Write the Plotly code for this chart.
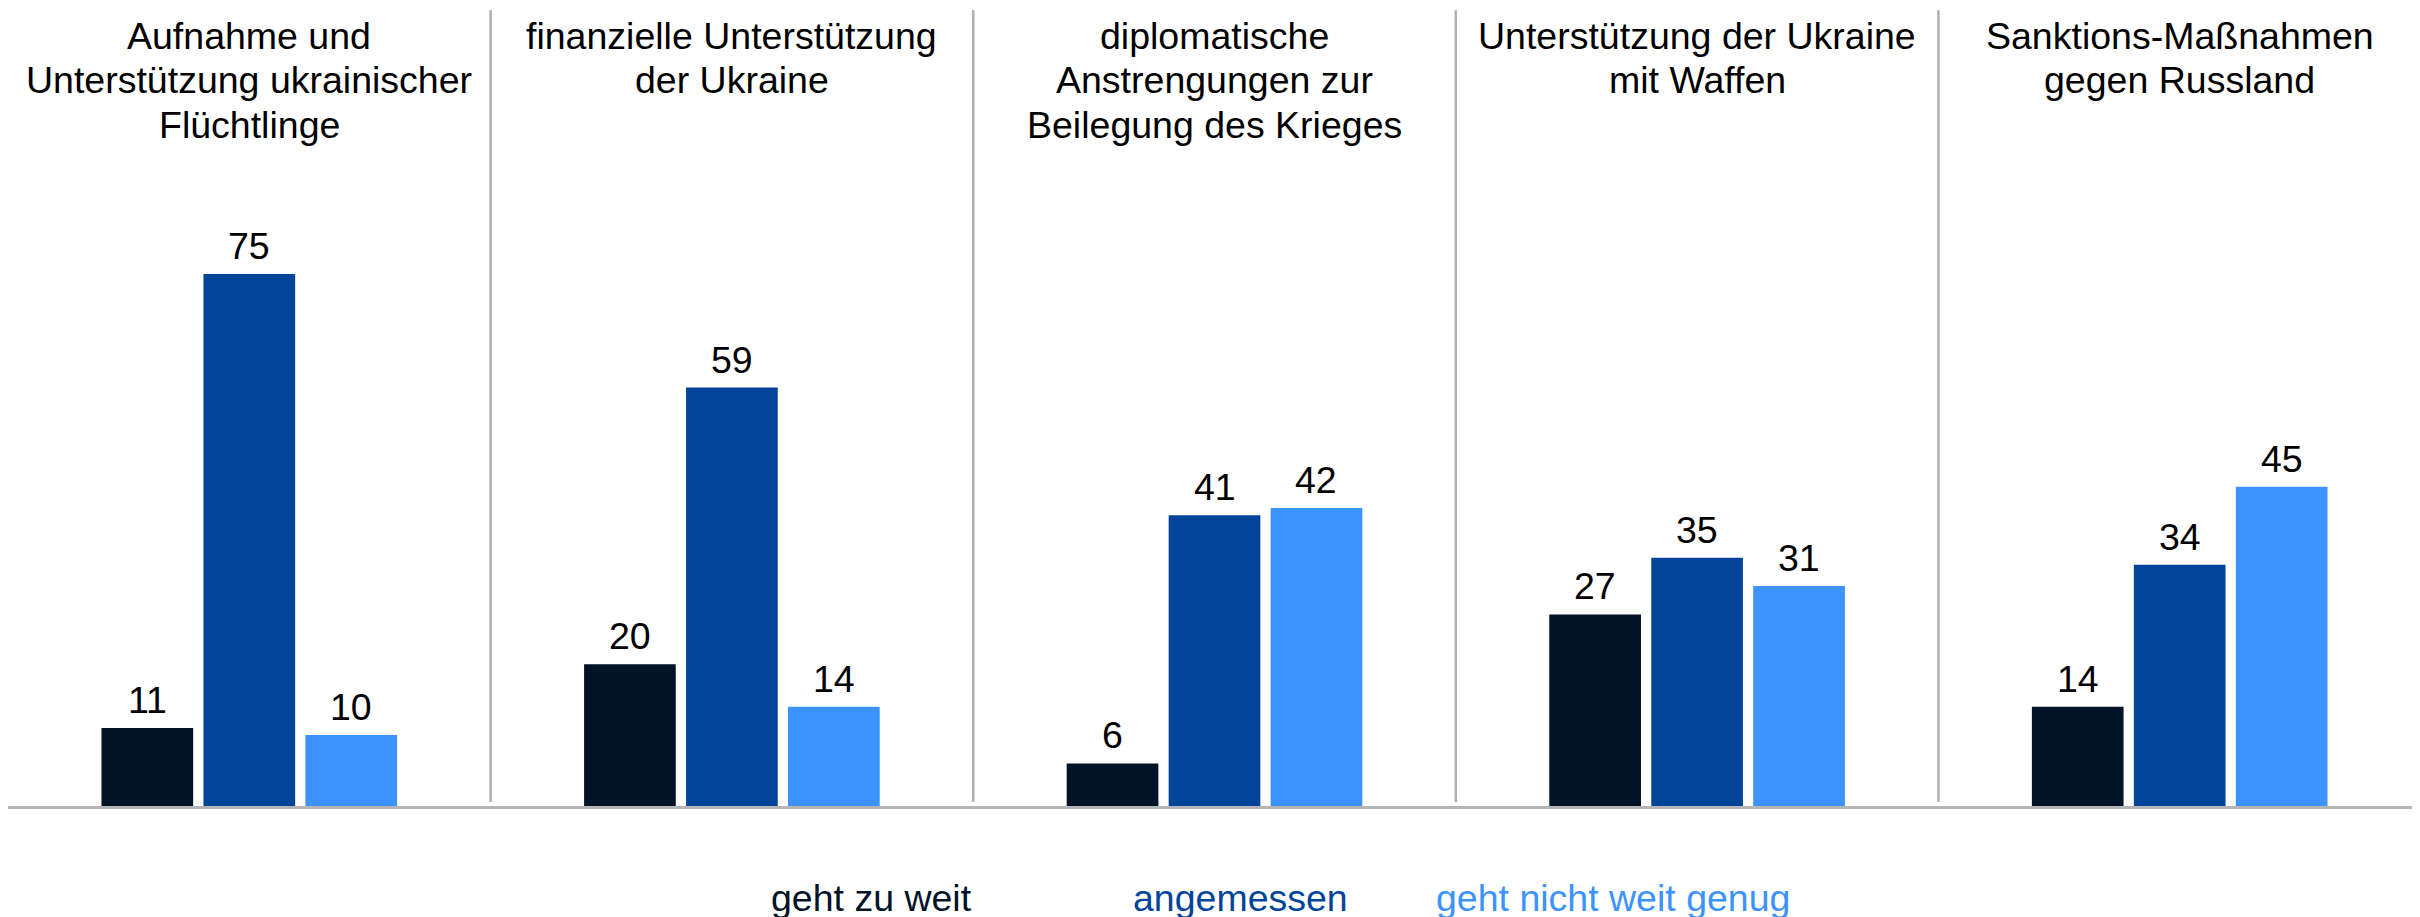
import plotly.graph_objects as go

# Kategorien (Titel zeilenweise) und Werte in Prozent
titles = [
    ["Aufnahme und", "Unterstützung ukrainischer", "Flüchtlinge"],
    ["finanzielle Unterstützung", "der Ukraine"],
    ["diplomatische", "Anstrengungen zur", "Beilegung des Krieges"],
    ["Unterstützung der Ukraine", "mit Waffen"],
    ["Sanktions-Maßnahmen", "gegen Russland"],
]
series_names = ["geht zu weit", "angemessen", "geht nicht weit genug"]
zu_weit = [11, 20, 6, 27, 14]
angemessen = [75, 59, 41, 35, 34]
nicht_genug = [10, 14, 42, 31, 45]

colors = ["#011327", "#03449b", "#3d93fe"]
font_family = "Liberation Sans, Arial, sans-serif"
fsize = 37.5

W, H = 2420, 917
left, right = 0, 7
bottom_px = 798                   # Achsenlinie (Figur-Pixel)
plot_w, plot_h = W - left - right, bottom_px
y_max = bottom_px / 7.093         # ~7.09 px pro Prozentpunkt

slot = 0.2113
bar_w = 0.19
x_pos = list(range(len(titles)))

fig = go.Figure()
for j, (name, vals) in enumerate(zip(series_names, [zu_weit, angemessen, nicht_genug])):
    off = (j - 1) * slot
    fig.add_trace(go.Bar(
        x=x_pos, y=vals, name=name,
        width=bar_w, offset=off - bar_w / 2,
        marker_color=colors[j], marker_line_width=0,
        showlegend=False, hoverinfo="y+name",
    ))
    # Werte über den Balken
    for i, v in enumerate(vals):
        fig.add_annotation(
            x=i + off, y=v, xref="x", yref="y", text=str(v),
            showarrow=False, yanchor="bottom", yshift=5,
            font=dict(size=fsize, color="#000000", family=font_family),
        )

# Trennlinien zwischen den Gruppen
for i in range(len(titles) - 1):
    fig.add_shape(
        type="line", xref="x", yref="y",
        x0=i + 0.5, x1=i + 0.5, y0=0.55, y1=y_max - 0.3,
        line=dict(color="#b0b0b0", width=2.5),
    )


def paper_y(ypix):
    return (bottom_px - ypix) / plot_h


# Gruppentitel oben
for i, lines in enumerate(titles):
    for k, line in enumerate(lines):
        fig.add_annotation(
            x=i, y=paper_y(28 + 44.5 * k), xref="x", yref="paper",
            text=line, showarrow=False, yanchor="middle",
            font=dict(size=fsize, color="#000000", family=font_family),
        )

# Legende als farbiger Text
legend_x = [761, 1123, 1426]
for name, c, lx in zip(series_names, colors, legend_x):
    fig.add_annotation(
        x=(lx - left) / plot_w, y=paper_y(890), xref="paper", yref="paper",
        text=name, showarrow=False, xanchor="left", yanchor="middle",
        font=dict(size=fsize, color=c, family=font_family),
    )

fig.update_layout(
    width=W, height=H,
    margin=dict(l=left, r=right, t=0, b=H - bottom_px),
    plot_bgcolor="white", paper_bgcolor="white",
    barmode="overlay",
    font=dict(family=font_family),
    xaxis=dict(range=[-0.5, len(titles) - 0.5], showticklabels=False, ticks="",
               showgrid=False, zeroline=False, showline=True,
               linecolor="#b5b5b5", linewidth=3, fixedrange=True),
    yaxis=dict(range=[0, y_max], visible=False, showgrid=False, fixedrange=True),
)

fig.write_html("out.html")
